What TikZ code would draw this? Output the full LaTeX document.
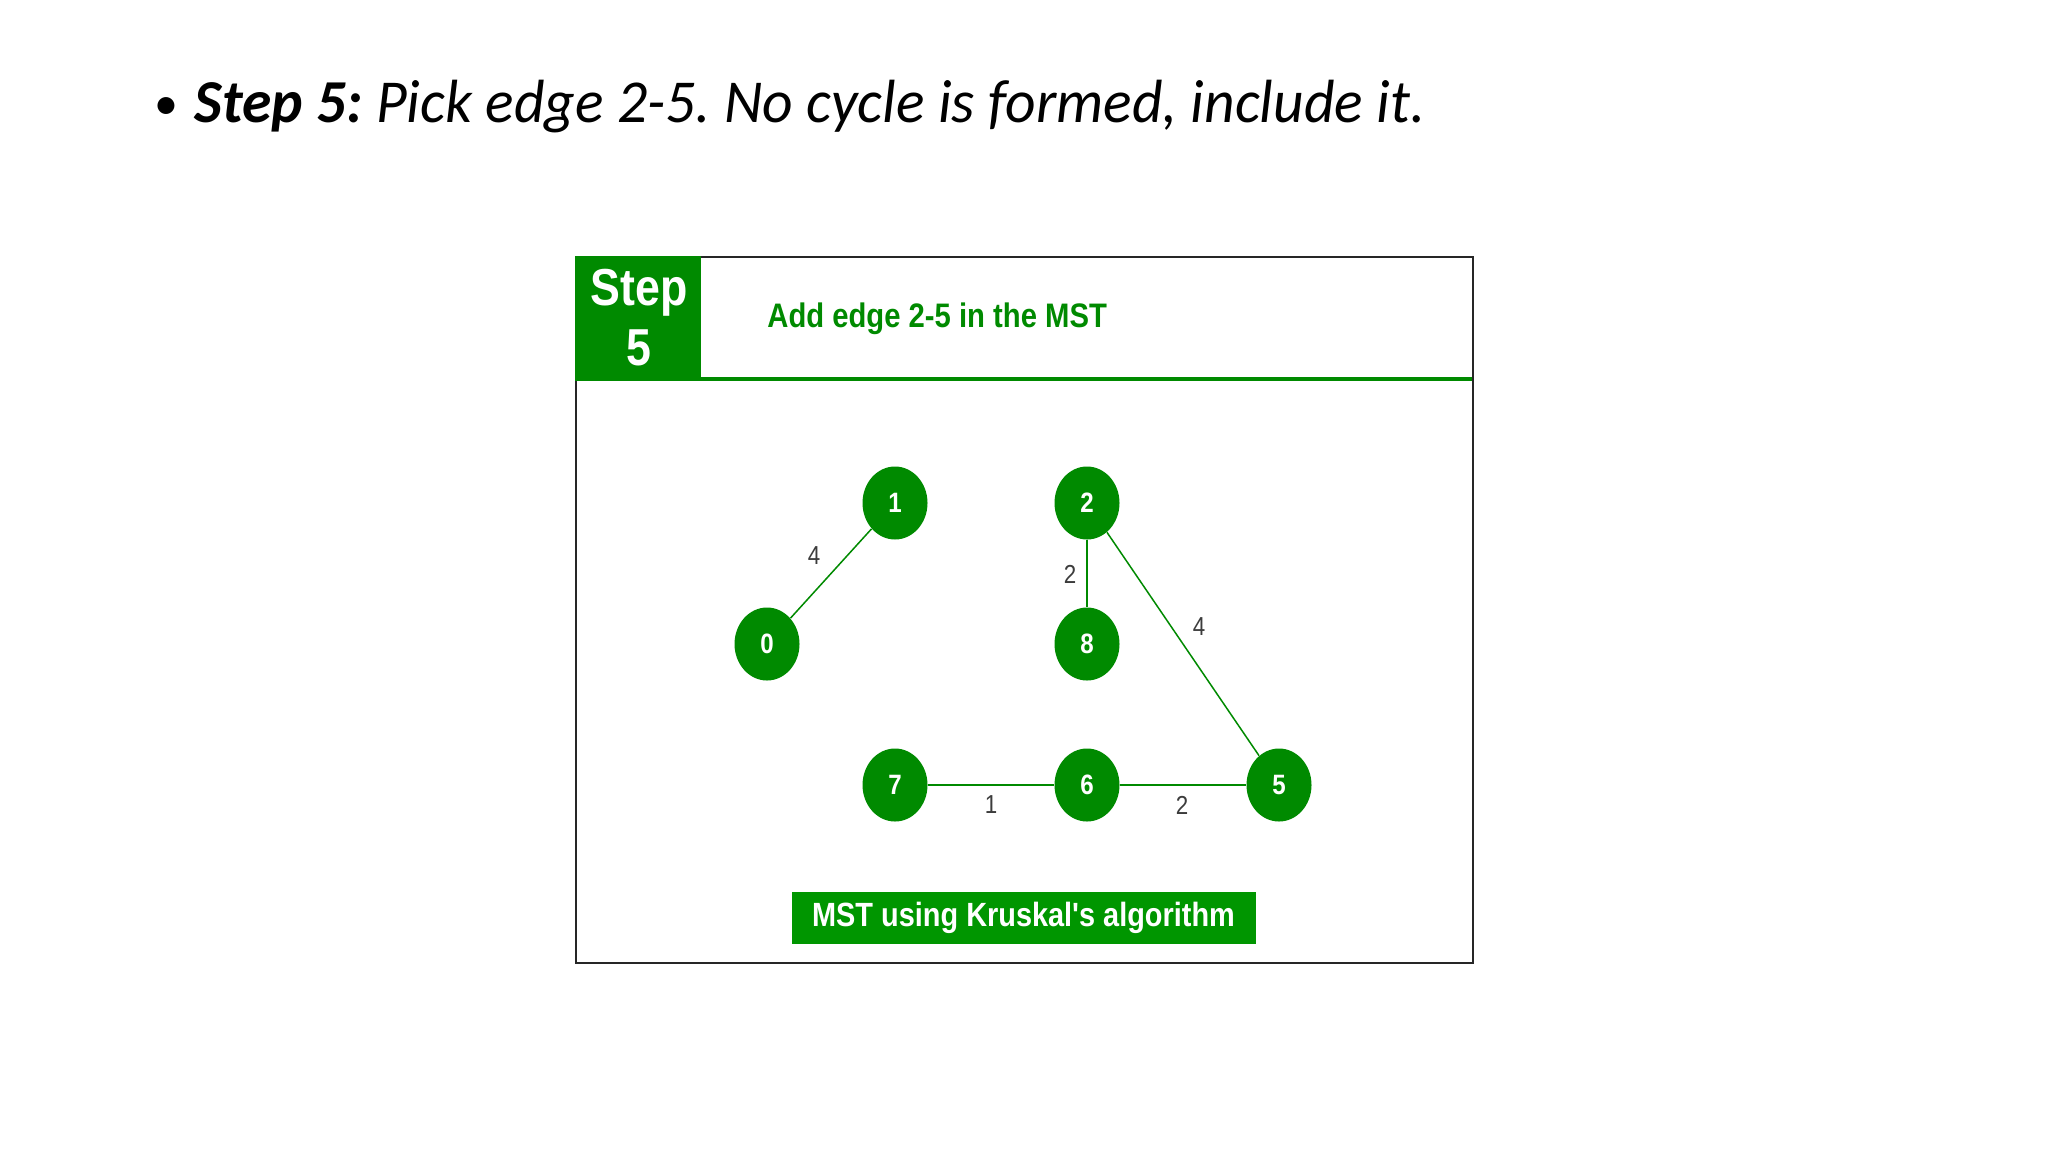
\documentclass[tikz,border=0pt]{standalone}
\usepackage{fontspec}
\setmainfont{Carlito}
\newfontfamily\titlefont[FakeStretch=0.975]{Carlito}
\newfontfamily\narrowsans[FakeStretch=0.86]{Liberation Sans}
\usetikzlibrary{shapes.geometric}
\definecolor{gfg}{RGB}{0,138,0}
\definecolor{banner}{RGB}{0,150,0}
\definecolor{lbl}{RGB}{60,60,60}
\frenchspacing
\begin{document}
\begin{tikzpicture}[x=0.5pt,y=-0.5pt,
  vertex/.style={ellipse, fill=gfg, minimum width=32.5pt, minimum height=36.5pt, inner sep=0pt,
    text=white, font=\narrowsans\bfseries\fontsize{14}{16}\selectfont},
  edgeline/.style={draw=gfg, line width=0.75pt},
  wlabel/.style={text=lbl, inner sep=0pt, font=\narrowsans\fontsize{13}{15}\selectfont}]
\useasboundingbox[fill=white] (0,0) rectangle (2048,1152);

% title
\node[anchor=base, inner sep=0pt, font=\fontsize{24}{28}\selectfont] (bullet) at (166,119) {\textbullet};
\node[anchor=base west, inner sep=0pt, font=\titlefont\fontsize{30.5}{36}\selectfont] (title) at (194,122)
  {\textbf{\textit{Step 5:}} \textit{Pick edge 2-5. No cycle is formed, include it.}};

% frame
\node[draw=black!85, line width=0.75pt, minimum width=448.5pt, minimum height=353pt, inner sep=0pt, anchor=north west] (frame) at (575,256) {};
\node[fill=gfg, minimum width=63pt, minimum height=61.5pt, inner sep=0pt, anchor=north west] (stepbox) at (575,256) {};
\draw[gfg, line width=2pt] (575,379) -- (1472,379);
\node[text=white, font=\narrowsans\bfseries\fontsize{26}{30}\selectfont, inner sep=0pt] (steptxt) at (639,293) {Step};
\node[text=white, font=\narrowsans\bfseries\fontsize{26}{30}\selectfont, inner sep=0pt] (stepnum) at (639,348) {5};
\node[text=gfg, anchor=west, font=\narrowsans\bfseries\fontsize{17}{20}\selectfont, inner sep=0pt] (header) at (767,319) {Add edge 2-5 in the MST};

% vertices
\node[vertex] (v1) at (895,503) {1};
\node[vertex] (v2) at (1087,503) {2};
\node[vertex] (v0) at (767,644) {0};
\node[vertex] (v8) at (1087,644) {8};
\node[vertex] (v7) at (895,785) {7};
\node[vertex] (v6) at (1087,785) {6};
\node[vertex] (v5) at (1279,785) {5};

% edges
\draw[edgeline] (v0) -- (v1);
\draw[edgeline] (v2) -- (v8);
\draw[edgeline] (v2) -- (v5);
\draw[edgeline] (v7) -- (v6);
\draw[edgeline] (v6) -- (v5);

% weights
\node[wlabel] (w01) at (814,556) {4};
\node[wlabel] (w28) at (1070,574) {2};
\node[wlabel] (w25) at (1199,627) {4};
\node[wlabel] (w76) at (991,805) {1};
\node[wlabel] (w65) at (1182,805) {2};

% banner
\node[fill=banner, minimum width=232pt, minimum height=26pt, inner sep=0pt, text=white,
  font=\narrowsans\bfseries\fontsize{16.8}{19}\selectfont] (banner) at (1023.5,918) {MST using Kruskal's algorithm};
\end{tikzpicture}
\end{document}
